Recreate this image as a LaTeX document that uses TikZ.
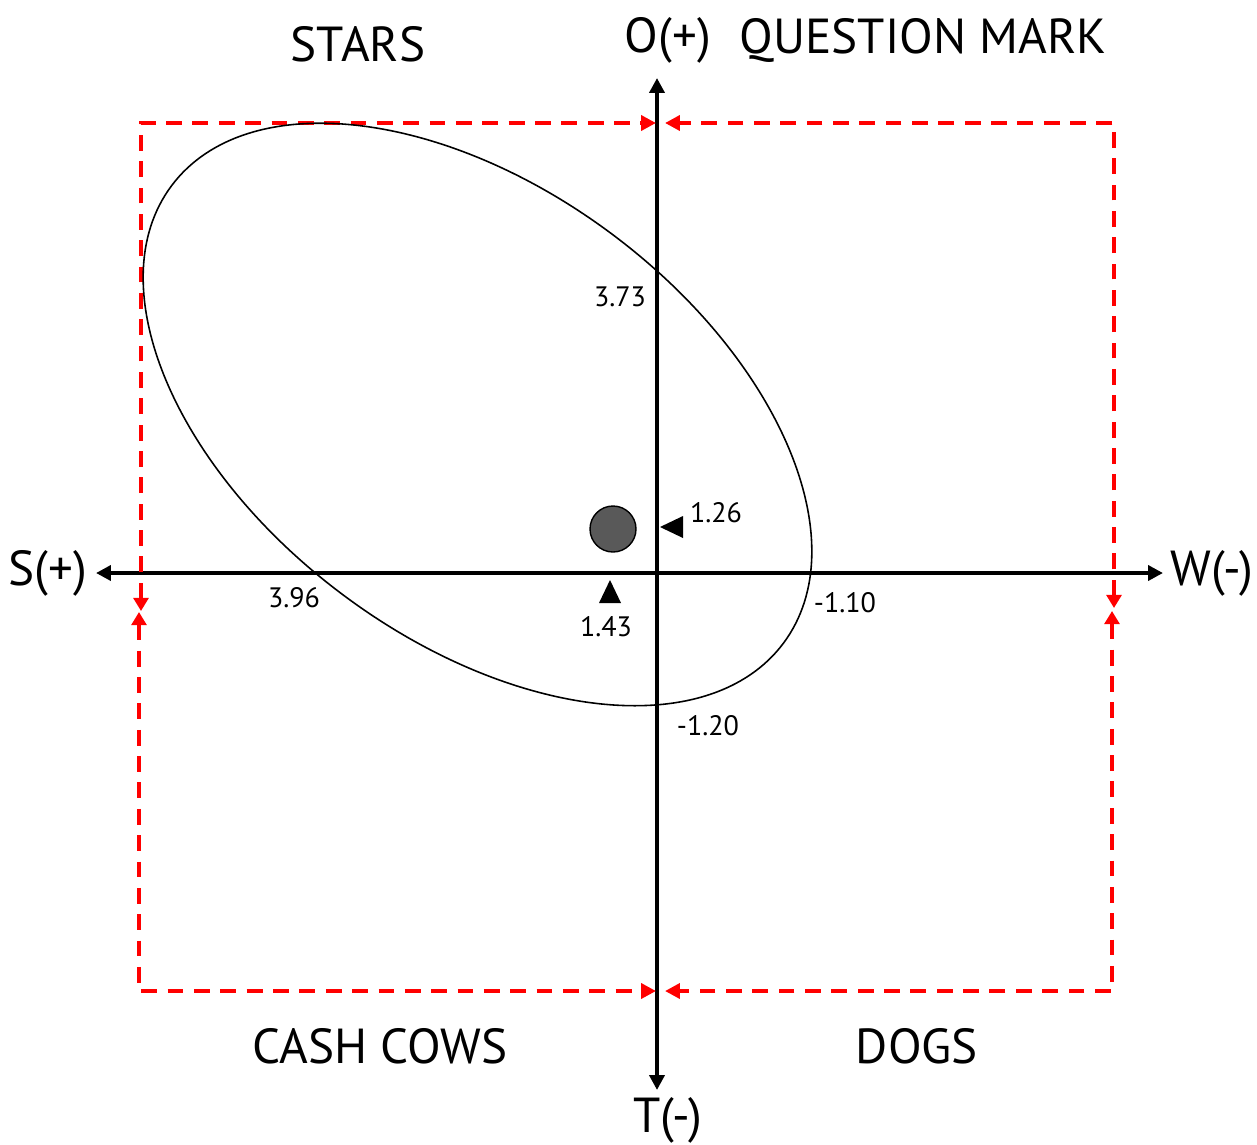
\documentclass[tikz,border=0pt]{standalone}
\usepackage{fontspec}
\setmainfont{PT Sans}
\usetikzlibrary{arrows.meta}
\tikzset{
  axisline/.style={line width=2.2pt,-{Triangle[length=8.5pt,width=8.5pt]}},
  zoneline/.style={red,line width=2.2pt,dash pattern=on 9pt off 6pt,
    {Triangle[length=7.5pt,width=8.5pt]}-{Triangle[length=8.5pt,width=8.5pt]}},
  biglabel/.style={font=\fontsize{28}{30}\selectfont,inner sep=0pt},
  smalllabel/.style={font=\fontsize{16}{18}\selectfont,inner sep=0pt},
}

\begin{document}
\begin{tikzpicture}[x=0.02cm,y=-0.02cm]
  \useasboundingbox (0,0) rectangle (1257,1144);

  % axes
  \coordinate (C) at (657,573);
  \coordinate (Otip) at (657,78);
  \coordinate (Ttip) at (657,1090);
  \coordinate (Stip) at (96,573);
  \coordinate (Wtip) at (1163,573);
  \draw[axisline] (C) -- (Otip);
  \draw[axisline] (C) -- (Ttip);
  \draw[axisline] (C) -- (Stip);
  \draw[axisline] (C) -- (Wtip);

  \node[biglabel] (O) at (668,40) {O(+)};
  \node[biglabel] (T) at (668,1120) {T(-)};
  \node[biglabel] (S) at (48,573) {S(+)};
  \node[biglabel] (W) at (1212,573) {W(-)};

  \node[biglabel] (stars) at (358,44) {STARS};
  \node[biglabel] (qmark) at (923,40) {QUESTION MARK};
  \node[biglabel] (cows) at (380,1046) {CASH COWS};
  \node[biglabel] (dogs) at (917,1046) {DOGS};

  % quadrant borders
  \coordinate (TLa) at (141,611);
  \coordinate (TLb) at (656,123);
  \coordinate (TRa) at (1114,608);
  \coordinate (TRb) at (665,123);
  \coordinate (BLa) at (139,612);
  \coordinate (BLb) at (656,991);
  \coordinate (BRa) at (1112,611);
  \coordinate (BRb) at (665,991);
  \draw[zoneline] (TLa) |- (TLb);
  \draw[zoneline] (TRa) |- (TRb);
  \draw[zoneline] (BLa) |- (BLb);
  \draw[zoneline] (BRa) |- (BRb);

  % strategy area
  \coordinate (E) at (477.5,414.5);
  \draw[line width=0.9pt,rotate around={-36.8:(E)}] (E) ellipse [x radius=382,y radius=225];

  \node[circle,draw,line width=0.8pt,fill=black!65,minimum size=0.92cm,inner sep=0pt] (P) at (613,529) {};

  \coordinate (M1) at (660,527);
  \coordinate (M2) at (610,580);
  \fill (M1) -- ++(23,-11) -- ++(0,22) -- cycle;
  \fill (M2) -- ++(11,23) -- ++(-22,0) -- cycle;

  \node[smalllabel] (v1) at (620,297) {3.73};
  \node[smalllabel] (v2) at (716,513) {1.26};
  \node[smalllabel] (v3) at (294,598) {3.96};
  \node[smalllabel] (v4) at (606,627) {1.43};
  \node[smalllabel] (v5) at (845,603) {-1.10};
  \node[smalllabel] (v6) at (708,726) {-1.20};
\end{tikzpicture}
\end{document}
